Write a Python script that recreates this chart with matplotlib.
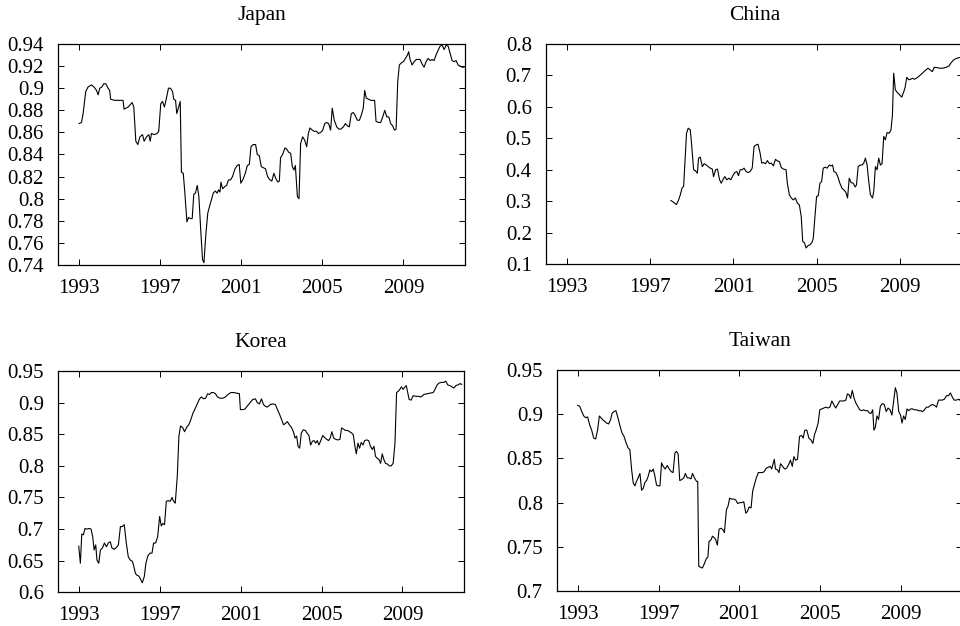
import matplotlib
matplotlib.use('Agg')
from matplotlib import pyplot as plt
from matplotlib.ticker import FormatStrFormatter

plt.rcParams['font.family'] = ['Liberation Serif', 'DejaVu Serif']

# Japan
japan_year = [1993.00, 1993.12, 1993.20, 1993.33, 1993.44, 1993.61, 1993.74, 1993.86, 1993.94, 1994.02,
              1994.12, 1994.22, 1994.32, 1994.43, 1994.51, 1994.56, 1994.76, 1995.01, 1995.17, 1995.22,
              1995.42, 1995.62, 1995.70, 1995.80, 1995.90, 1996.00, 1996.13, 1996.21, 1996.33, 1996.44,
              1996.51, 1996.57, 1996.70, 1996.85, 1996.93, 1997.03, 1997.12, 1997.21, 1997.31, 1997.41,
              1997.51, 1997.61, 1997.67, 1997.76, 1997.82, 1997.91, 1997.99, 1998.05, 1998.14, 1998.22,
              1998.32, 1998.40, 1998.48, 1998.58, 1998.66, 1998.74, 1998.83, 1998.91, 1999.01, 1999.09,
              1999.16, 1999.26, 1999.35, 1999.45, 1999.53, 1999.62, 1999.72, 1999.81, 1999.88, 1999.95,
              2000.00, 2000.08, 2000.19, 2000.28, 2000.37, 2000.47, 2000.57, 2000.69, 2000.80, 2000.90,
              2000.98, 2001.10, 2001.20, 2001.30, 2001.40, 2001.48, 2001.59, 2001.71, 2001.79, 2001.89,
              2001.99, 2002.09, 2002.20, 2002.30, 2002.42, 2002.51, 2002.61, 2002.71, 2002.81, 2002.88,
              2002.94, 2003.04, 2003.16, 2003.24, 2003.34, 2003.44, 2003.52, 2003.60, 2003.67, 2003.77,
              2003.85, 2003.93, 2004.03, 2004.13, 2004.23, 2004.31, 2004.39, 2004.51, 2004.60, 2004.72,
              2004.80, 2004.92, 2005.02, 2005.12, 2005.21, 2005.31, 2005.41, 2005.49, 2005.59, 2005.71,
              2005.81, 2005.91, 2006.04, 2006.14, 2006.23, 2006.33, 2006.43, 2006.53, 2006.63, 2006.73,
              2006.83, 2006.93, 2007.02, 2007.09, 2007.17, 2007.29, 2007.39, 2007.49, 2007.58, 2007.65,
              2007.77, 2007.88, 2007.98, 2008.08, 2008.18, 2008.28, 2008.37, 2008.47, 2008.56, 2008.64,
              2008.72, 2008.80, 2008.90, 2009.00, 2009.10, 2009.20, 2009.26, 2009.33, 2009.43, 2009.53,
              2009.63, 2009.72, 2009.82, 2009.92, 2010.02, 2010.12, 2010.22, 2010.32, 2010.42, 2010.51,
              2010.61, 2010.73, 2010.81, 2010.91, 2011.01, 2011.11, 2011.21, 2011.30, 2011.40, 2011.50,
              2011.60, 2011.70, 2011.80, 2011.90, 2011.99]
japan_val = [0.868, 0.869, 0.877, 0.897, 0.901, 0.903, 0.901, 0.898, 0.894, 0.900,
             0.901, 0.904, 0.904, 0.900, 0.898, 0.890, 0.889, 0.889, 0.889, 0.881,
             0.883, 0.887, 0.883, 0.852, 0.849, 0.856, 0.858, 0.852, 0.856, 0.858,
             0.852, 0.859, 0.858, 0.859, 0.861, 0.886, 0.888, 0.883, 0.891, 0.900,
             0.900, 0.897, 0.890, 0.889, 0.877, 0.883, 0.888, 0.824, 0.823, 0.805,
             0.779, 0.783, 0.782, 0.782, 0.804, 0.805, 0.812, 0.802, 0.769, 0.745,
             0.742, 0.769, 0.787, 0.794, 0.799, 0.805, 0.807, 0.805, 0.808, 0.806,
             0.815, 0.809, 0.811, 0.812, 0.817, 0.817, 0.820, 0.827, 0.830, 0.831,
             0.814, 0.818, 0.823, 0.830, 0.831, 0.847, 0.849, 0.849, 0.840, 0.839,
             0.829, 0.828, 0.827, 0.820, 0.817, 0.816, 0.823, 0.818, 0.815, 0.816,
             0.837, 0.840, 0.846, 0.845, 0.842, 0.841, 0.829, 0.826, 0.830, 0.802,
             0.800, 0.850, 0.856, 0.853, 0.847, 0.859, 0.864, 0.862, 0.861, 0.861,
             0.859, 0.860, 0.862, 0.868, 0.869, 0.868, 0.862, 0.882, 0.871, 0.865,
             0.863, 0.863, 0.865, 0.868, 0.866, 0.865, 0.877, 0.878, 0.875, 0.871,
             0.871, 0.876, 0.882, 0.898, 0.891, 0.890, 0.889, 0.889, 0.889, 0.870,
             0.869, 0.869, 0.874, 0.880, 0.874, 0.874, 0.868, 0.866, 0.862, 0.863,
             0.906, 0.921, 0.923, 0.924, 0.927, 0.930, 0.933, 0.926, 0.921, 0.924,
             0.926, 0.926, 0.926, 0.922, 0.919, 0.924, 0.927, 0.925, 0.926, 0.925,
             0.930, 0.935, 0.938, 0.939, 0.935, 0.939, 0.938, 0.932, 0.925, 0.924,
             0.925, 0.921, 0.920, 0.919, 0.919]

# China (series starts in 1998)
china_year = [1997.99, 1998.12, 1998.25, 1998.36, 1998.44, 1998.52, 1998.60, 1998.66, 1998.74, 1998.82,
              1998.92, 1998.98, 1999.08, 1999.16, 1999.26, 1999.32, 1999.40, 1999.50, 1999.59, 1999.69,
              1999.78, 1999.88, 1999.98, 2000.04, 2000.14, 2000.23, 2000.33, 2000.41, 2000.49, 2000.58,
              2000.68, 2000.78, 2000.87, 2000.97, 2001.06, 2001.16, 2001.24, 2001.32, 2001.42, 2001.51,
              2001.61, 2001.70, 2001.80, 2001.90, 2001.99, 2002.09, 2002.18, 2002.28, 2002.36, 2002.44,
              2002.54, 2002.63, 2002.73, 2002.82, 2002.92, 2003.02, 2003.11, 2003.21, 2003.30, 2003.40,
              2003.53, 2003.59, 2003.69, 2003.78, 2003.88, 2003.98, 2004.07, 2004.17, 2004.26, 2004.33,
              2004.42, 2004.49, 2004.58, 2004.68, 2004.78, 2004.84, 2004.92, 2005.00, 2005.08, 2005.16,
              2005.24, 2005.32, 2005.42, 2005.51, 2005.61, 2005.70, 2005.77, 2005.83, 2005.93, 2006.02,
              2006.12, 2006.22, 2006.31, 2006.41, 2006.49, 2006.57, 2006.66, 2006.76, 2006.86, 2006.92,
              2007.00, 2007.10, 2007.19, 2007.27, 2007.35, 2007.43, 2007.50, 2007.59, 2007.69, 2007.75,
              2007.83, 2007.91, 2007.99, 2008.07, 2008.15, 2008.23, 2008.31, 2008.39, 2008.49, 2008.58,
              2008.65, 2008.71, 2008.79, 2008.89, 2009.00, 2009.10, 2009.20, 2009.26, 2009.34, 2009.44,
              2009.53, 2009.61, 2009.70, 2009.80, 2009.90, 2009.99, 2010.12, 2010.25, 2010.36, 2010.47,
              2010.57, 2010.66, 2010.79, 2010.92, 2011.08, 2011.24, 2011.37, 2011.48, 2011.59, 2011.72,
              2011.88, 2011.99]
china_val = [0.302, 0.296, 0.289, 0.304, 0.320, 0.341, 0.347, 0.421, 0.516, 0.532,
             0.527, 0.484, 0.400, 0.397, 0.389, 0.437, 0.440, 0.410, 0.419, 0.415,
             0.410, 0.405, 0.402, 0.378, 0.400, 0.402, 0.368, 0.357, 0.368, 0.378,
             0.368, 0.373, 0.368, 0.381, 0.391, 0.394, 0.381, 0.400, 0.400, 0.405,
             0.394, 0.391, 0.394, 0.405, 0.474, 0.479, 0.481, 0.453, 0.421, 0.423,
             0.419, 0.429, 0.419, 0.421, 0.412, 0.433, 0.428, 0.426, 0.407, 0.402,
             0.400, 0.357, 0.320, 0.310, 0.304, 0.310, 0.294, 0.288, 0.251, 0.172,
             0.167, 0.151, 0.158, 0.161, 0.169, 0.182, 0.251, 0.315, 0.317, 0.357,
             0.362, 0.405, 0.408, 0.405, 0.415, 0.412, 0.415, 0.394, 0.391, 0.378,
             0.357, 0.341, 0.336, 0.328, 0.310, 0.373, 0.359, 0.357, 0.345, 0.352,
             0.410, 0.415, 0.415, 0.421, 0.437, 0.415, 0.368, 0.320, 0.310, 0.331,
             0.410, 0.400, 0.437, 0.415, 0.419, 0.506, 0.495, 0.518, 0.516, 0.527,
             0.574, 0.707, 0.654, 0.645, 0.638, 0.631, 0.649, 0.662, 0.694, 0.686,
             0.688, 0.691, 0.688, 0.691, 0.696, 0.701, 0.709, 0.717, 0.723, 0.717,
             0.712, 0.726, 0.725, 0.723, 0.723, 0.726, 0.730, 0.741, 0.749, 0.754,
             0.757, 0.757]

# Korea
korea_year = [1993.00, 1993.08, 1993.15, 1993.23, 1993.31, 1993.41, 1993.51, 1993.61, 1993.69, 1993.76,
              1993.84, 1993.90, 1993.99, 1994.07, 1994.17, 1994.27, 1994.37, 1994.46, 1994.56, 1994.64,
              1994.76, 1994.86, 1994.96, 1995.06, 1995.15, 1995.25, 1995.35, 1995.45, 1995.55, 1995.65,
              1995.71, 1995.80, 1995.88, 1995.96, 1996.04, 1996.14, 1996.24, 1996.32, 1996.42, 1996.52,
              1996.62, 1996.70, 1996.80, 1996.90, 1997.00, 1997.08, 1997.16, 1997.24, 1997.33, 1997.42,
              1997.52, 1997.61, 1997.69, 1997.77, 1997.87, 1997.95, 1998.03, 1998.13, 1998.23, 1998.35,
              1998.44, 1998.54, 1998.64, 1998.76, 1998.87, 1998.97, 1999.07, 1999.17, 1999.27, 1999.37,
              1999.46, 1999.56, 1999.66, 1999.76, 1999.86, 1999.99, 2000.12, 2000.25, 2000.38, 2000.52,
              2000.65, 2000.81, 2000.94, 2000.99, 2001.11, 2001.22, 2001.34, 2001.47, 2001.60, 2001.73,
              2001.83, 2001.93, 2002.03, 2002.13, 2002.23, 2002.33, 2002.46, 2002.59, 2002.72, 2002.82,
              2002.92, 2003.03, 2003.12, 2003.21, 2003.31, 2003.41, 2003.51, 2003.61, 2003.69, 2003.77,
              2003.84, 2003.92, 2004.00, 2004.10, 2004.20, 2004.30, 2004.38, 2004.46, 2004.55, 2004.63,
              2004.71, 2004.79, 2004.87, 2004.95, 2005.06, 2005.15, 2005.25, 2005.35, 2005.43, 2005.51,
              2005.60, 2005.70, 2005.80, 2005.91, 2005.99, 2006.09, 2006.19, 2006.29, 2006.39, 2006.49,
              2006.57, 2006.65, 2006.72, 2006.80, 2006.88, 2006.96, 2007.05, 2007.13, 2007.23, 2007.33,
              2007.42, 2007.51, 2007.59, 2007.67, 2007.75, 2007.84, 2007.92, 2008.00, 2008.08, 2008.16,
              2008.25, 2008.35, 2008.44, 2008.54, 2008.63, 2008.71, 2008.79, 2008.87, 2008.95, 2009.03,
              2009.13, 2009.19, 2009.33, 2009.43, 2009.53, 2009.66, 2009.79, 2009.92, 2010.06, 2010.22,
              2010.38, 2010.52, 2010.61, 2010.71, 2010.81, 2010.91, 2011.04, 2011.14, 2011.24, 2011.34,
              2011.45, 2011.54, 2011.64, 2011.74, 2011.84, 2011.93]
korea_val = [0.673, 0.646, 0.692, 0.691, 0.701, 0.700, 0.701, 0.700, 0.688, 0.667,
             0.675, 0.651, 0.646, 0.667, 0.670, 0.678, 0.672, 0.678, 0.680, 0.670,
             0.668, 0.671, 0.675, 0.704, 0.704, 0.707, 0.678, 0.656, 0.651, 0.649,
             0.643, 0.630, 0.627, 0.626, 0.622, 0.615, 0.625, 0.646, 0.658, 0.662,
             0.662, 0.678, 0.678, 0.688, 0.720, 0.705, 0.709, 0.707, 0.744, 0.745,
             0.744, 0.750, 0.744, 0.741, 0.783, 0.847, 0.863, 0.861, 0.854, 0.862,
             0.865, 0.873, 0.883, 0.891, 0.899, 0.906, 0.909, 0.906, 0.907, 0.914,
             0.913, 0.916, 0.916, 0.914, 0.909, 0.907, 0.907, 0.909, 0.913, 0.916,
             0.916, 0.915, 0.914, 0.889, 0.889, 0.890, 0.895, 0.900, 0.905, 0.906,
             0.900, 0.898, 0.906, 0.897, 0.894, 0.893, 0.897, 0.898, 0.897, 0.889,
             0.882, 0.873, 0.865, 0.867, 0.870, 0.865, 0.861, 0.854, 0.844, 0.847,
             0.831, 0.828, 0.852, 0.857, 0.856, 0.851, 0.848, 0.833, 0.839, 0.840,
             0.836, 0.840, 0.833, 0.839, 0.848, 0.845, 0.842, 0.840, 0.844, 0.854,
             0.844, 0.842, 0.841, 0.842, 0.860, 0.858, 0.856, 0.856, 0.854, 0.852,
             0.849, 0.831, 0.819, 0.836, 0.828, 0.837, 0.833, 0.840, 0.841, 0.840,
             0.831, 0.826, 0.831, 0.815, 0.812, 0.810, 0.804, 0.819, 0.810, 0.804,
             0.803, 0.800, 0.800, 0.804, 0.836, 0.916, 0.918, 0.921, 0.925, 0.921,
             0.925, 0.927, 0.905, 0.904, 0.911, 0.910, 0.910, 0.909, 0.913, 0.914,
             0.915, 0.916, 0.921, 0.928, 0.931, 0.932, 0.932, 0.934, 0.928, 0.927,
             0.925, 0.923, 0.927, 0.928, 0.930, 0.929]

# Taiwan
taiwan_year = [1993.00, 1993.10, 1993.20, 1993.30, 1993.40, 1993.49, 1993.59, 1993.69, 1993.79, 1993.89,
               1993.99, 1994.07, 1994.15, 1994.23, 1994.33, 1994.43, 1994.53, 1994.63, 1994.70, 1994.79,
               1994.89, 1994.99, 1995.09, 1995.19, 1995.29, 1995.39, 1995.49, 1995.58, 1995.67, 1995.75,
               1995.83, 1995.91, 1995.99, 1996.08, 1996.16, 1996.24, 1996.33, 1996.41, 1996.49, 1996.57,
               1996.65, 1996.74, 1996.82, 1996.90, 1996.98, 1997.07, 1997.15, 1997.23, 1997.33, 1997.43,
               1997.53, 1997.63, 1997.72, 1997.81, 1997.89, 1997.97, 1998.05, 1998.15, 1998.25, 1998.33,
               1998.42, 1998.51, 1998.61, 1998.68, 1998.78, 1998.88, 1998.94, 1998.99, 1999.07, 1999.17,
               1999.27, 1999.37, 1999.44, 1999.50, 1999.60, 1999.67, 1999.77, 1999.83, 1999.91, 2000.00,
               2000.10, 2000.20, 2000.26, 2000.36, 2000.44, 2000.52, 2000.62, 2000.72, 2000.82, 2000.92,
               2001.02, 2001.12, 2001.22, 2001.32, 2001.40, 2001.48, 2001.58, 2001.66, 2001.74, 2001.84,
               2001.94, 2002.04, 2002.14, 2002.23, 2002.33, 2002.43, 2002.53, 2002.60, 2002.66, 2002.73,
               2002.79, 2002.89, 2002.96, 2003.04, 2003.14, 2003.24, 2003.34, 2003.44, 2003.53, 2003.62,
               2003.70, 2003.78, 2003.88, 2003.98, 2004.08, 2004.16, 2004.24, 2004.34, 2004.44, 2004.54,
               2004.64, 2004.72, 2004.80, 2004.90, 2004.98, 2005.08, 2005.18, 2005.28, 2005.38, 2005.48,
               2005.58, 2005.67, 2005.77, 2005.87, 2005.97, 2006.07, 2006.17, 2006.27, 2006.35, 2006.43,
               2006.51, 2006.59, 2006.68, 2006.76, 2006.86, 2006.96, 2007.06, 2007.15, 2007.25, 2007.35,
               2007.45, 2007.52, 2007.60, 2007.66, 2007.73, 2007.81, 2007.89, 2007.98, 2008.08, 2008.17,
               2008.27, 2008.36, 2008.46, 2008.55, 2008.63, 2008.72, 2008.80, 2008.89, 2008.98, 2009.05,
               2009.13, 2009.21, 2009.30, 2009.38, 2009.48, 2009.57, 2009.67, 2009.77, 2009.87, 2009.97,
               2010.07, 2010.16, 2010.26, 2010.36, 2010.46, 2010.56, 2010.66, 2010.76, 2010.86, 2010.96,
               2011.05, 2011.15, 2011.25, 2011.35, 2011.45, 2011.55, 2011.63, 2011.74, 2011.87, 2011.99]
taiwan_val = [0.910, 0.909, 0.903, 0.898, 0.896, 0.897, 0.888, 0.882, 0.873, 0.872,
              0.883, 0.898, 0.896, 0.894, 0.892, 0.890, 0.889, 0.894, 0.901, 0.903,
              0.904, 0.896, 0.887, 0.879, 0.875, 0.868, 0.862, 0.860, 0.837, 0.822,
              0.819, 0.824, 0.828, 0.833, 0.814, 0.816, 0.823, 0.825, 0.830, 0.837,
              0.835, 0.838, 0.830, 0.820, 0.819, 0.819, 0.845, 0.841, 0.838, 0.842,
              0.838, 0.835, 0.834, 0.856, 0.858, 0.855, 0.825, 0.826, 0.828, 0.833,
              0.828, 0.828, 0.827, 0.833, 0.828, 0.824, 0.824, 0.728, 0.727, 0.726,
              0.731, 0.737, 0.738, 0.756, 0.758, 0.762, 0.760, 0.758, 0.752, 0.770,
              0.771, 0.769, 0.766, 0.792, 0.796, 0.805, 0.804, 0.804, 0.803, 0.799,
              0.800, 0.800, 0.801, 0.788, 0.790, 0.795, 0.794, 0.813, 0.820, 0.828,
              0.834, 0.834, 0.834, 0.835, 0.839, 0.840, 0.841, 0.838, 0.843, 0.849,
              0.838, 0.837, 0.834, 0.844, 0.841, 0.838, 0.839, 0.843, 0.848, 0.841,
              0.852, 0.848, 0.849, 0.875, 0.876, 0.873, 0.882, 0.882, 0.873, 0.871,
              0.867, 0.877, 0.882, 0.890, 0.905, 0.906, 0.907, 0.908, 0.907, 0.908,
              0.915, 0.911, 0.907, 0.911, 0.915, 0.915, 0.915, 0.916, 0.923, 0.922,
              0.918, 0.927, 0.918, 0.913, 0.909, 0.905, 0.904, 0.905, 0.904, 0.904,
              0.901, 0.901, 0.905, 0.882, 0.885, 0.898, 0.894, 0.909, 0.912, 0.911,
              0.903, 0.907, 0.905, 0.899, 0.914, 0.930, 0.924, 0.903, 0.899, 0.890,
              0.898, 0.894, 0.906, 0.904, 0.906, 0.906, 0.905, 0.905, 0.904, 0.904,
              0.903, 0.905, 0.908, 0.908, 0.910, 0.911, 0.910, 0.908, 0.916, 0.916,
              0.916, 0.917, 0.921, 0.921, 0.924, 0.919, 0.916, 0.916, 0.917, 0.914]

year_ticks = [1993, 1997, 2001, 2005, 2009]

panels = [
    ('Japan', japan_year, japan_val, [0.74, 0.76, 0.78, 0.80, 0.82, 0.84, 0.86, 0.88, 0.90, 0.92, 0.94],
     [0.0604, 0.5767, 0.4240, 0.3530]),
    ('China', china_year, china_val, [0.1, 0.2, 0.3, 0.4, 0.5, 0.6, 0.7, 0.8],
     [0.5684, 0.5783, 0.4346, 0.3514]),
    ('Korea', korea_year, korea_val, [0.60, 0.65, 0.70, 0.75, 0.80, 0.85, 0.90, 0.95],
     [0.0601, 0.0538, 0.4232, 0.3535]),
    ('Taiwan', taiwan_year, taiwan_val, [0.70, 0.75, 0.80, 0.85, 0.90, 0.95],
     [0.5799, 0.0559, 0.4226, 0.3530]),
]

fig = plt.figure(figsize=(9.6, 6.26), dpi=100)

for name, yrs, vals, yticks, rect in panels:
    ax = fig.add_axes(rect)
    ax.plot(yrs, vals, color='black', linewidth=0.8)
    ax.set_xlim(1991.96, 2012.04)
    ax.set_ylim(yticks[0], yticks[-1])
    ax.set_xticks(year_ticks)
    ax.set_yticks(yticks)
    ax.yaxis.set_major_formatter(FormatStrFormatter('%g'))
    ax.tick_params(direction='in', top=True, right=True, length=4, width=0.7,
                   labelsize=15, pad=10, colors='black')
    for s in ax.spines.values():
        s.set_linewidth(0.9)
    ax.set_title(name, fontsize=15.5, pad=17)

plt.savefig('out.png', dpi=100)
